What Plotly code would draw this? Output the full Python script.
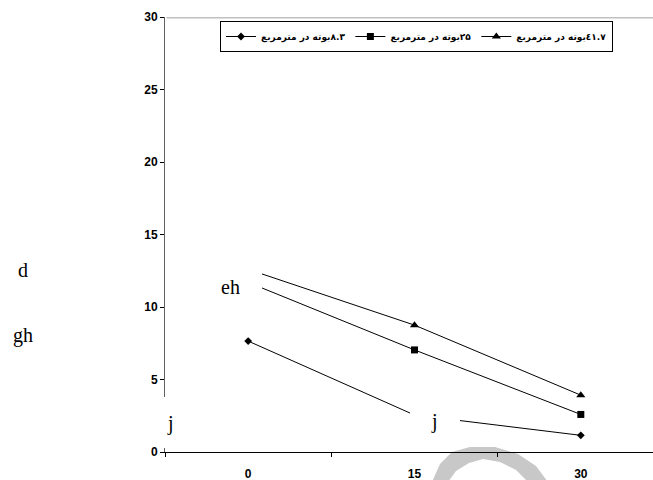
import plotly.graph_objects as go

# ---- data ----
days = ["0", "15", "30"]
tick_y = [0, 5, 10, 15, 20, 25, 30]
RLM = "\u200f"
names = [RLM + "۸.۳بوته در مترمربع", RLM + "۲۵بوته در مترمربع", RLM + "٤١.٧بوته در مترمربع"]
s_83 = [7.65, 2.55, 1.15]
s_25 = [11.7, 7.04, 2.59]
s_417 = [12.6, 8.75, 3.92]
side_labels = ["d", "gh"]
in_labels = ["eh", "j", "j"]

W, H = 653, 480
L, R, T, B = 165, 653, 17, 452


def px(xp):
    return (xp - L) / (R - L)


def py(yp):
    return (B - yp) / (B - T)


fig = go.Figure()
symbols = ["diamond", "square", "triangle-up"]
sizes = [6, 7, 8]
for nm, vals, sym, sz in zip(names, [s_83, s_25, s_417], symbols, sizes):
    fig.add_trace(go.Scatter(
        x=days, y=vals, name=nm, mode="lines+markers",
        line=dict(color="black", width=1),
        marker=dict(symbol=sym, size=sz, color="black"),
    ))

shapes = []
# top border of plot area (light grey)
shapes.append(dict(type="line", xref="paper", yref="paper", x0=0.003, x1=1, y0=0.998, y1=0.998,
                   line=dict(color="#c0c0c0", width=1.5), layer="above"))
# white text boxes that hide parts of the lines
for (x0, x1, y0, y1) in [(205, 262, 262, 312), (410, 460, 400, 442), (158, 192, 397, 448)]:
    shapes.append(dict(type="rect", xref="paper", yref="paper",
                       x0=px(x0), x1=px(x1), y0=py(y1), y1=py(y0),
                       fillcolor="white", line=dict(width=0), layer="above"))

# grey watermark crescent below the axis
pts_outer = [(432, 482), (440, 464), (452, 452), (470, 447), (495, 447), (518, 454), (536, 466), (548, 482)]
pts_inner = [(528, 482), (516, 470), (500, 462), (483, 459), (469, 463), (456, 471), (448, 482)]
path = "M " + " L ".join(f"{px(a):.4f},{py(b):.4f}" for a, b in pts_outer + pts_inner) + " Z"
shapes.append(dict(type="path", xref="paper", yref="paper", path=path,
                   fillcolor="#c8c8c8", line=dict(width=0), layer="below"))

annotations = []
serif = dict(family="Liberation Serif", size=20, color="black")
for txt, (xa, ya) in zip(side_labels, [(23, 270), (23, 335)]):
    annotations.append(dict(text=txt, x=px(xa), y=py(ya), xref="paper", yref="paper",
                            showarrow=False, font=serif, xanchor="center", yanchor="middle"))
for txt, (xa, ya) in zip(in_labels, [(230, 287), (434, 421), (170, 423)]):
    annotations.append(dict(text=txt, x=px(xa), y=py(ya), xref="paper", yref="paper",
                            showarrow=False, font=serif, xanchor="center", yanchor="middle"))

tickfont = dict(family="Liberation Sans", size=12, color="black", weight="bold")
fig.update_layout(
    width=W, height=H,
    margin=dict(l=L, r=W - R, t=T, b=H - B),
    paper_bgcolor="white", plot_bgcolor="white",
    template="none",
    showlegend=True,
    legend=dict(orientation="h", x=px(220), y=py(21), xanchor="left", yanchor="top",
                bordercolor="black", borderwidth=1, bgcolor="white",
                font=dict(family="DejaVu Sans", size=9, color="black", weight="bold"),
                traceorder="normal", itemwidth=30),
    shapes=shapes,
    annotations=annotations,
    xaxis=dict(type="category", range=[-0.5, 2.434], showgrid=False, zeroline=False,
               showline=True, linecolor="black", linewidth=1,
               ticks="outside", tickson="boundaries", ticklen=4, tickcolor="black",
               ticklabelstandoff=11, tickfont=tickfont),
    yaxis=dict(range=[0, 30], tickvals=tick_y, showgrid=False, zeroline=False,
               showline=True, linecolor="#606060", linewidth=1,
               ticks="outside", ticklen=4, tickcolor="black", tickfont=tickfont),
)

fig.write_html("out.html", config={"displayModeBar": False},
               post_script="document.body.style.margin='0';")
